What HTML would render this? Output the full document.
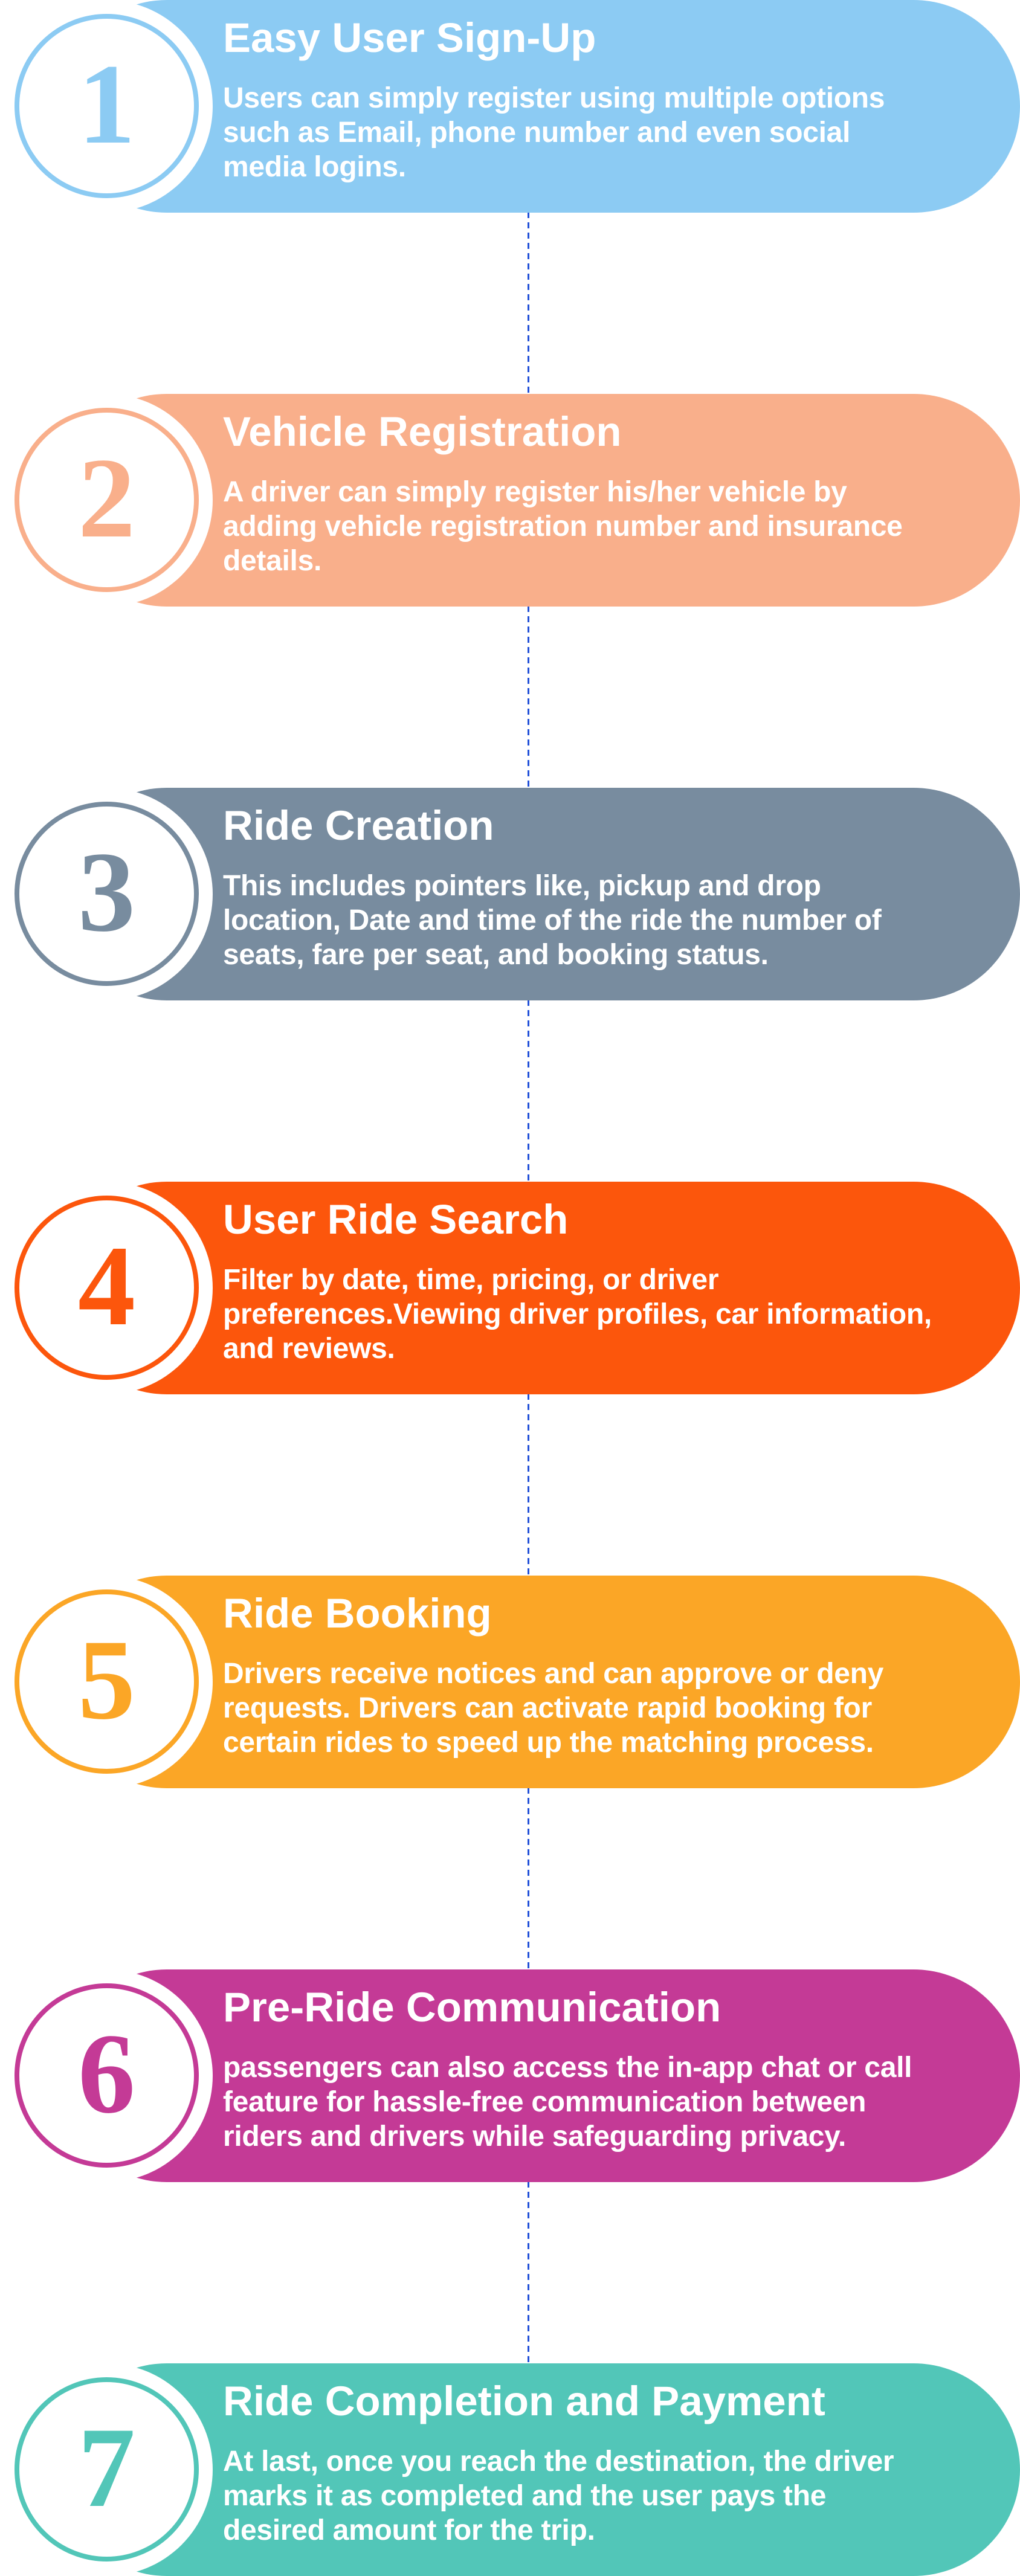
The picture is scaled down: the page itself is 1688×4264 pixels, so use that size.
<!DOCTYPE html>
<html><head><meta charset="utf-8"><style>
*{margin:0;padding:0;box-sizing:border-box}
body{width:1688px;height:4264px;background:#fff;position:relative;overflow:hidden;font-family:"Liberation Sans",sans-serif}
.card{position:absolute;left:0;width:1688px;height:352px}
.pill{position:absolute;left:100px;top:0;width:1588px;height:352px;border-radius:176px}
.wc{position:absolute;left:0;top:0;width:352px;height:352px;border-radius:50%;background:#fff}
.ring{position:absolute;left:24px;top:23px;width:305px;height:305px;border-radius:50%;border:8px solid;background:#fff;text-align:center;font-family:"Liberation Serif",serif;font-weight:bold;font-size:190px;line-height:285px}
.t{position:absolute;left:369px;top:23px;color:#fff;font-weight:bold;font-size:69px;white-space:nowrap;line-height:80px}
.b{position:absolute;left:369px;top:134px;color:#fff;font-weight:bold;font-size:48px;line-height:57px;white-space:nowrap;letter-spacing:-0.3px}
.dash{position:absolute;left:873px;width:3px;height:301px;background:repeating-linear-gradient(to bottom,#2150d8 0 10px,transparent 10px 17px)}
</style></head><body>
<div class="dash" style="top:351px"></div>
<div class="dash" style="top:1003px"></div>
<div class="dash" style="top:1655px"></div>
<div class="dash" style="top:2307px"></div>
<div class="dash" style="top:2959px"></div>
<div class="dash" style="top:3611px"></div>

<div class="card" style="top:0"><div class="pill" style="background:#8ccbf3"></div><div class="wc"></div><div class="ring" style="border-color:#8ccbf3;color:#8ccbf3">1</div>
<div class="t">Easy User Sign-Up</div><div class="b">Users can simply register using multiple options<br>such as Email, phone number and even social<br>media logins.</div></div>

<div class="card" style="top:652px"><div class="pill" style="background:#f9af8b"></div><div class="wc"></div><div class="ring" style="border-color:#f9af8b;color:#f9af8b">2</div>
<div class="t">Vehicle Registration</div><div class="b">A driver can simply register his/her vehicle by<br>adding vehicle registration number and insurance<br>details.</div></div>

<div class="card" style="top:1304px"><div class="pill" style="background:#788c9f"></div><div class="wc"></div><div class="ring" style="border-color:#788c9f;color:#788c9f">3</div>
<div class="t">Ride Creation</div><div class="b">This includes pointers like, pickup and drop<br>location, Date and time of the ride the number of<br>seats, fare per seat, and booking status.</div></div>

<div class="card" style="top:1956px"><div class="pill" style="background:#fc560c"></div><div class="wc"></div><div class="ring" style="border-color:#fc560c;color:#fc560c">4</div>
<div class="t">User Ride Search</div><div class="b">Filter by date, time, pricing, or driver<br>preferences.Viewing driver profiles, car information,<br>and reviews.</div></div>

<div class="card" style="top:2608px"><div class="pill" style="background:#fba626"></div><div class="wc"></div><div class="ring" style="border-color:#fba626;color:#fba626">5</div>
<div class="t">Ride Booking</div><div class="b">Drivers receive notices and can approve or deny<br>requests. Drivers can activate rapid booking for<br>certain rides to speed up the matching process.</div></div>

<div class="card" style="top:3260px"><div class="pill" style="background:#c43a96"></div><div class="wc"></div><div class="ring" style="border-color:#c43a96;color:#c43a96">6</div>
<div class="t">Pre-Ride Communication</div><div class="b">passengers can also access the in-app chat or call<br>feature for hassle-free communication between<br>riders and drivers while safeguarding privacy.</div></div>

<div class="card" style="top:3912px"><div class="pill" style="background:#52c6b8"></div><div class="wc"></div><div class="ring" style="border-color:#52c6b8;color:#52c6b8">7</div>
<div class="t">Ride Completion and Payment</div><div class="b">At last, once you reach the destination, the driver<br>marks it as completed and the user pays the<br>desired amount for the trip.</div></div>
</body></html>
